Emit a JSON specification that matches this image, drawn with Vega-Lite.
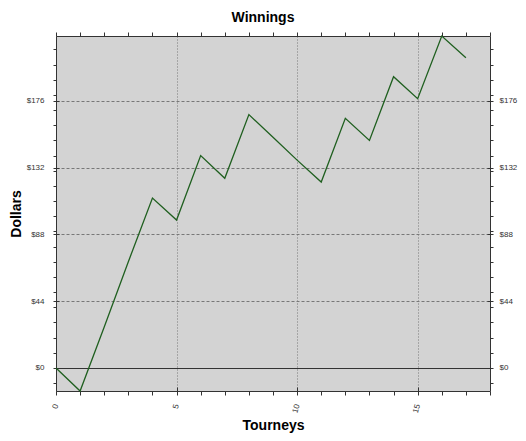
{
  "$schema": "https://vega.github.io/schema/vega-lite/v6.json",
  "width": 434,
  "height": 355,
  "autosize": {"type": "none"},
  "padding": {"left": 56, "top": 36, "right": 36, "bottom": 50},
  "background": "white",
  "title": {"text": "Winnings", "anchor": "middle", "frame": "bounds", "fontSize": 14, "fontWeight": "bold", "font": "Liberation Sans", "color": "#000", "offset": 7},
  "config": {
    "view": {"fill": "#d3d3d3", "stroke": null},
    "axis": {"domainColor": "#333", "tickColor": "#333", "labelColor": "#333", "labelFont": "Liberation Sans", "labelFontSize": 8, "titleFont": "Liberation Sans", "titleFontSize": 14, "titleFontWeight": "bold", "titleColor": "#000"}
  },
  "data": {"values": [
    {"t": 0, "dollars": 0},
    {"t": 1, "dollars": -15.2},
    {"t": 2, "dollars": 27},
    {"t": 3, "dollars": 70},
    {"t": 4, "dollars": 112},
    {"t": 5, "dollars": 97.5},
    {"t": 6, "dollars": 140},
    {"t": 7, "dollars": 125},
    {"t": 8, "dollars": 167},
    {"t": 9, "dollars": 152},
    {"t": 10, "dollars": 137},
    {"t": 11, "dollars": 122.5},
    {"t": 12, "dollars": 164.5},
    {"t": 13, "dollars": 150},
    {"t": 14, "dollars": 192},
    {"t": 15, "dollars": 177.5},
    {"t": 16, "dollars": 218.8},
    {"t": 17, "dollars": 204.5}
  ]},
  "resolve": {"axis": {"x": "independent", "y": "independent"}},
  "layer": [
    {
      "mark": {"type": "line", "color": "#1f5f1f", "strokeWidth": 1.3},
      "encoding": {
        "x": {"field": "t", "type": "quantitative", "scale": {"domain": [0, 18], "nice": false, "zero": false},
          "axis": {"orient": "bottom", "title": "Tourneys", "titlePadding": 5, "values": [0,1,2,3,4,5,6,7,8,9,10,11,12,13,14,15,16,17,18],
            "tickSize": 4, "labelExpr": "datum.value % 5 === 0 && datum.value < 18 ? datum.label : ''", "labelAngle": -75, "labelPadding": 9, "labelAlign": "right", "labelBaseline": "middle",
            "grid": true, "gridDash": [1, 2], "gridColor": "#777",
            "gridOpacity": {"condition": {"test": "datum.value % 5 === 0 && datum.value > 0 && datum.value < 18", "value": 1}, "value": 0}}},
        "y": {"field": "dollars", "type": "quantitative", "scale": {"domain": [-15.2, 218.8], "nice": false, "zero": false},
          "axis": {"orient": "left", "title": "Dollars", "titlePadding": 3,
            "values": [-10,0,10,20,30,40,44,50,60,70,80,88,90,100,110,120,130,132,140,150,160,170,176,180,190,200,210],
            "tickSize": 3, "labelPadding": 9, "labelExpr": "datum.value % 44 === 0 ? '$' + datum.value : ''",
            "grid": true,
            "gridOpacity": {"condition": {"test": "datum.value % 44 === 0", "value": 1}, "value": 0},
            "gridDash": {"condition": {"test": "datum.value === 0", "value": []}, "value": [3, 2]},
            "gridColor": {"condition": {"test": "datum.value === 0", "value": "#333"}, "value": "#777"}}}
      }
    },
    {
      "mark": {"type": "line", "strokeOpacity": 0},
      "encoding": {
        "x": {"field": "t", "type": "quantitative", "axis": {"orient": "top", "title": null, "labels": false, "grid": false, "tickSize": 4, "values": [0,1,2,3,4,5,6,7,8,9,10,11,12,13,14,15,16,17,18]}},
        "y": {"field": "dollars", "type": "quantitative", "axis": {"orient": "right", "title": null, "grid": false,
            "values": [-10,0,10,20,30,40,44,50,60,70,80,88,90,100,110,120,130,132,140,150,160,170,176,180,190,200,210],
            "tickSize": 3, "labelPadding": 6, "labelExpr": "datum.value % 44 === 0 ? '$' + datum.value : ''"}}
      }
    },
    {
      "mark": {"type": "line", "strokeOpacity": 0},
      "encoding": {
        "x": {"field": "t", "type": "quantitative", "axis": {"orient": "bottom", "title": null, "labels": false, "grid": false, "domain": false, "tickSize": -4, "values": [0, 5, 10, 15]}},
        "y": {"field": "dollars", "type": "quantitative", "axis": {"orient": "left", "title": null, "labels": false, "grid": false, "domain": false, "tickSize": -3, "values": [0, 44, 88, 132, 176]}}
      }
    },
    {
      "mark": {"type": "line", "strokeOpacity": 0},
      "encoding": {
        "x": {"field": "t", "type": "quantitative", "axis": null},
        "y": {"field": "dollars", "type": "quantitative", "axis": {"orient": "right", "title": null, "labels": false, "grid": false, "domain": false, "tickSize": -3, "values": [0, 44, 88, 132, 176]}}
      }
    }
  ]
}
